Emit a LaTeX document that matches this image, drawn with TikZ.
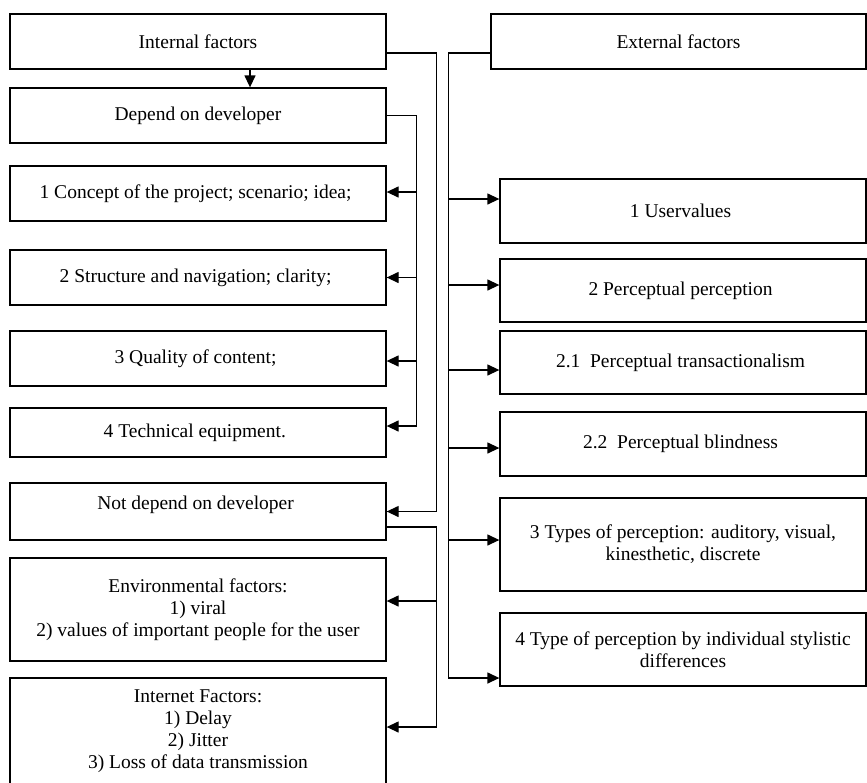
\documentclass[tikz,border=0pt]{standalone}
\usepackage{fontspec}
\setmainfont{Liberation Serif}
\usetikzlibrary{
    arrows.meta,
    positioning,
    calc
}

\begin{document}
\begin{tikzpicture}[
        x=1pt, y=-1pt,
        block/.style={draw, line width=1.3pt, align=center, inner sep=0pt, font=\fontsize{19.5}{22}\selectfont},
        arrow/.style={-{Triangle[length=12pt, width=11pt]}, line width=1.3pt}
    ]
        \useasboundingbox (0, 0) rectangle (867, 782);

        % Internal factors
        \node[block, minimum width=376pt, minimum height=55pt] (intf) at (198, 41.5) {Internal factors};
        \node[block, minimum width=376pt, minimum height=55pt] (dep) at (198, 115.5) {Depend on developer};

        % Depend on developer
        \node[block, minimum width=376pt, minimum height=55pt] (conc) at (198, 193.5) {
            1 Concept of the project; scenario; idea;
        };
        \node[block, minimum width=376pt, minimum height=55pt] (struc) at (198, 277.5) {
            2 Structure and navigation; clarity;
        };
        \node[block, minimum width=376pt, minimum height=55pt] (qual) at (198, 358.5) {
            3 Quality of content;
        };
        \node[block, minimum width=376pt, minimum height=49pt] (tech) at (198, 432.5) {
            4 Technical equipment.
        };

        % Not depend on developer
        \node[block, minimum width=376pt, minimum height=57pt, text depth=17pt] (notdep) at (198, 511.5) {
            Not depend on developer
        };
        \node[block, minimum width=376pt, minimum height=103pt] (env) at (198, 609.5) {
            Environmental factors:\\
            1) viral\\
            2) values of important people for the user
        };
        \node[block, minimum width=376pt, minimum height=106pt] (inet) at (198, 731) {
            Internet Factors:\\
            1) Delay\\
            2) Jitter\\
            3) Loss of data transmission
        };

        % External factors
        \node[block, minimum width=375pt, minimum height=55pt] (extf) at (678.5, 41.5) {External factors};
        \node[block, minimum width=366pt, minimum height=64pt] (userv) at (683, 211) {
            1 Uservalues
        };
        \node[block, minimum width=366pt, minimum height=63pt] (percp) at (683, 290.5) {
            2 Perceptual perception
        };
        \node[block, minimum width=366pt, minimum height=63pt] (trans) at (683, 362.5) {
            2.1\ \ Perceptual transactionalism
        };
        \node[block, minimum width=366pt, minimum height=64pt] (blind) at (683, 444) {
            2.2\ \ Perceptual blindness
        };
        \node[block, minimum width=366pt, minimum height=93pt] (types) at (683, 544.5) {
            3 Types of perception: auditory, visual,\\
            kinesthetic, discrete
        };
        \node[block, minimum width=366pt, minimum height=73pt] (style) at (683, 649.5) {
            4 Type of perception by individual stylistic\\
            differences
        };

        % Arrows
        \draw[arrow] ([xshift=52pt]intf.south) -- ([xshift=52pt]dep.north);
        \draw[arrow] ([yshift=-11.5pt]intf.east) -- ++(50, 0) |- (notdep.east);

        \draw[line width=1.3pt] (dep.east) -- ++(30, 0) coordinate (depbus);
        \draw[arrow] (depbus) |- ([yshift=1.5pt]conc.east);
        \draw[arrow] (depbus) |- (struc.east);
        \draw[arrow] (depbus) |- ([yshift=-2.5pt]qual.east);
        \draw[arrow] (depbus) |- ([yshift=6.5pt]tech.east);

        \draw[line width=1.3pt] ([yshift=-15.5pt]notdep.east) -- ++(50, 0) coordinate (ndbus);
        \draw[arrow] (ndbus) |- ([yshift=8.5pt]env.east);
        \draw[arrow] (ndbus) |- ([yshift=4pt]inet.east);

        \draw[line width=1.3pt] ([yshift=-11.5pt]extf.west) -- ++(-42, 0) coordinate (extbus);
        \draw[arrow] (extbus) |- ([yshift=12pt]userv.west);
        \draw[arrow] (extbus) |- ([yshift=5.5pt]percp.west);
        \draw[arrow] (extbus) |- ([yshift=-7.5pt]trans.west);
        \draw[arrow] (extbus) |- ([yshift=-4pt]blind.west);
        \draw[arrow] (extbus) |- ([yshift=4.5pt]types.west);
        \draw[arrow] (extbus) |- ([yshift=-28.5pt]style.west);
    \end{tikzpicture}
\end{document}
